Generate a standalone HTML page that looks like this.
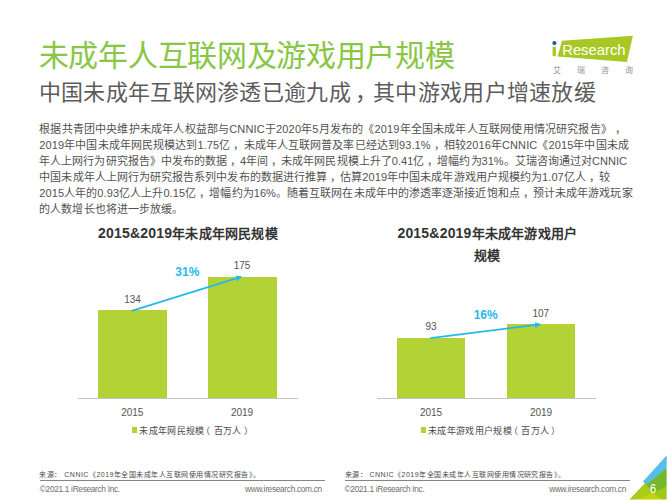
<!DOCTYPE html>
<html lang="zh-CN">
<head>
<meta charset="utf-8">
<title>未成年人互联网及游戏用户规模</title>
<style>
html,body{margin:0;padding:0;}
body{width:667px;height:500px;position:relative;overflow:hidden;background:#fff;font-family:"Liberation Sans",sans-serif;color:#444;}
.abs{position:absolute;white-space:nowrap;}
#title{left:38.8px;top:35.4px;font-size:30px;letter-spacing:-.3px;line-height:42px;color:#89c645;}
#subtitle{left:38.8px;top:77.4px;font-size:22px;letter-spacing:.29px;line-height:32px;color:#5c5c5c;}
#subtitle span{position:relative;left:4.5px;}
#body{left:39.3px;top:122.4px;font-size:11px;text-spacing-trim:space-all;line-height:15.88px;color:#525252;}
.ln{display:block;height:15.88px;}
.c{padding-left:3px;margin-right:-1px;}
#l1{letter-spacing:.17px}#l2{letter-spacing:.105px}#l3{letter-spacing:.04px}#l4{letter-spacing:.07px}#l5{letter-spacing:.083px}#l6{letter-spacing:.06px}
.ctitle b{font-size:14px;}
.ctitle{font-weight:bold;letter-spacing:.2px;font-size:13px;line-height:22.2px;color:#333;text-align:center;}
.val{font-size:10px;line-height:12px;color:#555;text-align:center;width:60px;}
.pct{font-size:12px;line-height:14px;font-weight:bold;color:#28b9eb;text-align:center;width:60px;}
.bar{position:absolute;background:#b2d235;}
.axis{position:absolute;height:1px;background:#c4c4c4;}
.leg{font-size:9px;letter-spacing:.3px;line-height:12px;color:#4a4a4a;}
.lp{margin-left:-3.2px;margin-right:3.2px;}.rp{margin-left:1.9px;}
.legsq{position:absolute;width:5.4px;height:5.4px;background:#b2d235;}
.src{font-size:7px;letter-spacing:.49px;line-height:10px;color:#4a4a4a;}
.foot{font-size:8.3px;letter-spacing:-.31px;line-height:10px;color:#6e6e6e;}
.fline{position:absolute;height:1px;background:#858585;}
</style>
</head>
<body>
<div id="title" class="abs">未成年人互联网及游戏用户规模</div>
<div id="subtitle" class="abs">中国未成年互联网渗透已逾九成<span>，</span>其中游戏用户增速放缓</div>

<!-- logo -->
<svg class="abs" style="left:545px;top:30px" width="100" height="50" viewBox="545 30 100 50">
  <polygon points="562,40.7 632.9,35.7 626.9,62.1 557.6,56.4" fill="#a9c824"/>
  <polygon points="552.6,46.8 555.9,46.8 555.9,56.3 552.6,56" fill="#a9c824"/>
  <circle cx="554.4" cy="43.1" r="2.1" fill="#1f5aa8"/>
  <text x="562.2" y="54.6" font-family="Liberation Sans, sans-serif" font-size="14.4" fill="#fff" textLength="63.4" lengthAdjust="spacingAndGlyphs">Research</text>
</svg>
<div class="abs" style="left:552.6px;top:66px;font-size:8px;line-height:10px;color:#929292;letter-spacing:16.2px;">艾瑞咨询</div>

<div id="body" class="abs"><span class="ln" id="l1">根据共青团中央维护未成年人权益部与CNNIC于2020年5月发布的《2019年全国未成年人互联网使用情况研究报告》<span class="c">，</span></span><span class="ln" id="l2">2019年中国未成年网民规模达到1.75亿<span class="c">，</span>未成年人互联网普及率已经达到93.1%<span class="c">，</span>相较2016年CNNIC《2015年中国未成</span><span class="ln" id="l3">年人上网行为研究报告》中发布的数据<span class="c">，</span>4年间<span class="c">，</span>未成年网民规模上升了0.41亿<span class="c">，</span>增幅约为31%。艾瑞咨询通过对CNNIC</span><span class="ln" id="l4">中国未成年人上网行为研究报告系列中发布的数据进行推算<span class="c">，</span>估算2019年中国未成年游戏用户规模约为1.07亿人<span class="c">，</span>较</span><span class="ln" id="l5">2015人年的0.93亿人上升0.15亿<span class="c">，</span>增幅约为16%。随着互联网在未成年中的渗透率逐渐接近饱和点<span class="c">，</span>预计未成年游戏玩家</span><span class="ln" id="l6">的人数增长也将进一步放缓。</span></div>

<!-- chart 1 -->
<div class="abs ctitle" style="left:88px;top:222px;width:200px;"><b>2015&amp;2019</b>年未成年网民规模</div>
<div class="bar" style="left:97.9px;top:310.4px;width:69.3px;height:88.1px;"></div>
<div class="bar" style="left:207.8px;top:276.6px;width:69.3px;height:121.9px;"></div>
<div class="axis" style="left:78px;top:398px;width:219.5px;"></div>
<div class="abs val" style="left:102.5px;top:294px;">134</div>
<div class="abs val" style="left:212px;top:259.7px;">175</div>
<div class="abs pct" style="left:157.3px;top:265.2px;">31%</div>
<div class="abs val" style="left:102.3px;top:407px;">2015</div>
<div class="abs val" style="left:212px;top:407px;">2019</div>
<div class="legsq" style="left:131.5px;top:427.4px;"></div>
<div class="abs leg" style="left:139.4px;top:424.6px;">未成年网民规模<span class="lp">（</span>百万人<span class="rp">）</span></div>

<!-- chart 2 -->
<div class="abs ctitle" style="left:387.3px;top:222px;width:200px;"><b>2015&amp;2019</b>年未成年游戏用户<br>规模</div>
<div class="bar" style="left:397px;top:337.6px;width:68.2px;height:60.9px;"></div>
<div class="bar" style="left:506.5px;top:323.8px;width:68.4px;height:74.7px;"></div>
<div class="axis" style="left:376.5px;top:398px;width:219.5px;"></div>
<div class="abs val" style="left:401px;top:320.9px;">93</div>
<div class="abs val" style="left:510.8px;top:307.8px;">107</div>
<div class="abs pct" style="left:455.7px;top:308.2px;">16%</div>
<div class="abs val" style="left:401px;top:407px;">2015</div>
<div class="abs val" style="left:511px;top:407px;">2019</div>
<div class="legsq" style="left:420.9px;top:427.4px;"></div>
<div class="abs leg" style="left:428.2px;top:424.6px;">未成年游戏用户规模<span class="lp">（</span>百万人<span class="rp">）</span></div>

<svg class="abs" style="left:0;top:0" width="667" height="500">
  <defs><marker id="ah" markerWidth="6" markerHeight="6" refX="5" refY="3" orient="auto" markerUnits="userSpaceOnUse"><path d="M0,0 L6,3 L0,6 z" fill="#25b8ec"/></marker></defs>
  <line x1="131.7" y1="310.8" x2="241" y2="276.9" stroke="#25b8ec" stroke-width="1.75" marker-end="url(#ah)"/>
  <line x1="430.3" y1="338.2" x2="540" y2="324.4" stroke="#25b8ec" stroke-width="1.75" marker-end="url(#ah)"/>
</svg>

<!-- footer left -->
<div class="abs src" id="src1" style="left:39.4px;top:469.7px;">来源： CNNIC《2019年全国未成年人互联网使用情况研究报告》。</div>
<div class="fline" style="left:39.6px;top:480px;width:285.8px;"></div>
<div class="abs foot" id="f1" style="left:39.8px;top:483.6px;">©2021.1 iResearch Inc.</div>
<div class="abs foot" id="f2" style="right:345.2px;top:483.6px;">www.iresearch.com.cn</div>
<!-- footer right -->
<div class="abs src" id="src2" style="left:344.6px;top:469.7px;">来源： CNNIC《2019年全国未成年人互联网使用情况研究报告》。</div>
<div class="fline" style="left:344.6px;top:480px;width:285.3px;"></div>
<div class="abs foot" id="f3" style="left:344.4px;top:483.6px;">©2021.1 iResearch Inc.</div>
<div class="abs foot" id="f4" style="right:41px;top:483.6px;">www.iresearch.com.cn</div>

<!-- corner -->
<svg class="abs" style="left:617px;top:450px" width="50" height="50" viewBox="617 450 50 50">
  <polygon points="629,500 644.6,483.4 667,465 667,500" fill="#aacb1c"/>
  <polygon points="646.2,484.8 667,468 667,486.4 654.2,492.8" fill="#74b72a"/>
  <polygon points="667,486.4 654.2,492.8 660.5,500 667,500" fill="#a0c819"/>
  <polygon points="636.5,500 652.2,492.8 663.3,500" fill="#c0d50c"/>
  <polygon points="667,455 643,481.6 646.2,484.8 667,468" fill="#55bee9"/>
</svg>
<div class="abs" style="left:647.2px;top:481.5px;width:12px;text-align:center;font-size:12.6px;line-height:14px;color:#fff;transform:scaleX(.88);">6</div>
<div style="position:absolute;left:620px;top:499px;width:47px;height:1px;background:rgba(255,255,255,.45);"></div>
<div style="position:absolute;left:666px;top:450px;width:1px;height:50px;background:rgba(255,255,255,.35);"></div>
</body>
</html>
